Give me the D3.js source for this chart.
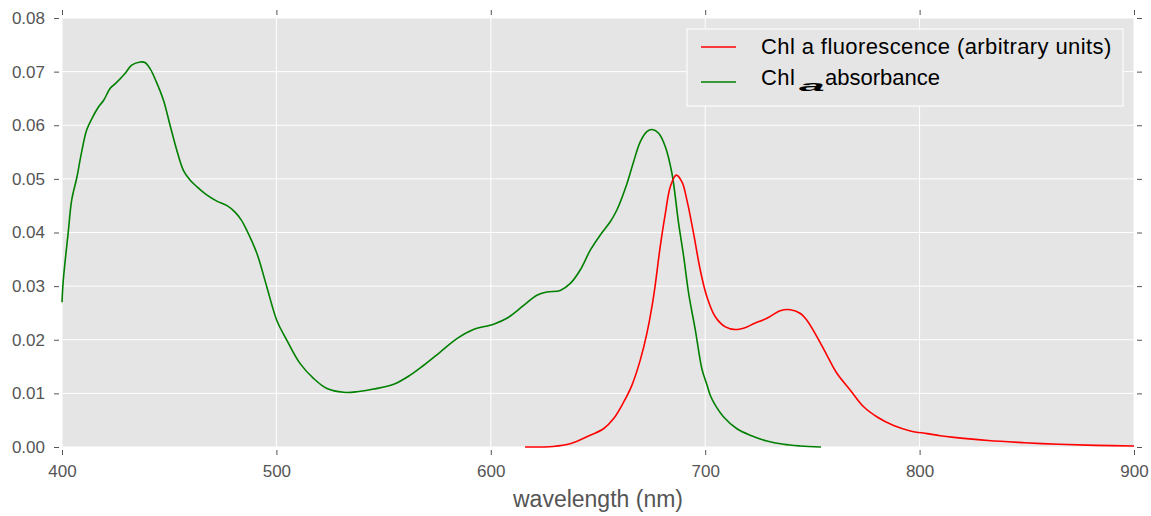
<!DOCTYPE html>
<html>
<head>
<meta charset="utf-8">
<script src="https://cdn.jsdelivr.net/npm/d3@7"></script>
<style>
  body { margin: 0; background: #fff; }
  text { font-family: "Liberation Sans", Arial, sans-serif; }
</style>
</head>
<body>
<div id="chart"></div>
<script>
const width = 1151;
const height = 516;
const margin = { top: 18, right: 17, bottom: 69, left: 62 };

// Chl a absorbance (green)
const absWl = [400, 400.6, 403, 404.5, 407, 409, 411.5, 414, 417, 419.5, 422.5, 425, 429.5, 432.5, 436.5, 438.7,
  441, 444, 447.3, 450.4, 453.5, 456.6, 459.7, 463, 467.5, 472, 477, 480.7, 483.5, 486.2, 490.9, 495.5,
  500.2, 504.9, 511, 517.3, 523.6, 531.4, 537.6, 545.3, 554.7, 562.4, 568.6, 576.4, 584.2, 591.9, 601.3,
  607.5, 615.3, 621.5, 626.2, 632.4, 637.1, 641.7, 646.4, 651, 655.7, 658.8, 663.5, 666.6, 669.7, 672.8,
  675.2, 678.3, 681.4, 684.5, 687.6, 690, 692.3, 695.4, 698.5, 700.8, 702.4, 704.7, 708.6, 714.8, 721,
  728.8, 736.5, 744.4, 754];
const absVal = [0.0270, 0.0311, 0.0404, 0.0460, 0.0504, 0.0547, 0.0591, 0.0613, 0.0634, 0.0647, 0.0669, 0.0678,
  0.0697, 0.0712, 0.0718, 0.0717, 0.0706, 0.0681, 0.0647, 0.0600, 0.0554, 0.0516, 0.0498, 0.0485, 0.0470,
  0.0459, 0.0450, 0.0438, 0.0424, 0.0404, 0.0361, 0.0299, 0.0236, 0.0199, 0.0156, 0.0128, 0.0109, 0.0102,
  0.0103, 0.0108, 0.0117, 0.0134, 0.0152, 0.0177, 0.0202, 0.0219, 0.0229, 0.0240, 0.0264, 0.0283, 0.0289,
  0.0292, 0.0305, 0.0330, 0.0367, 0.0395, 0.0420, 0.0442, 0.0491, 0.0532, 0.0569, 0.0588, 0.0592, 0.0585,
  0.0560, 0.0510, 0.0417, 0.0354, 0.0286, 0.0218, 0.0145, 0.0116, 0.0096, 0.0078, 0.0056, 0.0034, 0.0022,
  0.0011, 0.0005, 0.0002, 0.0];

// Chl a fluorescence (red)
const fluoWl = [616, 629, 637, 646.4, 652.6, 657.3, 662, 665.8, 669.7, 672.8, 675.9, 679, 681.4, 683.7, 686.5,
  689.2, 691.5, 694.6, 697.7, 700.8, 704.7, 709.4, 714, 719.5, 722.6, 728.8, 735, 739.7, 744.4, 747.5, 752.2,
  756.8, 761.5, 767.7, 773.9, 780.2, 787.9, 795.7, 803.5, 809.7, 816, 832, 849, 865, 882, 900];
const fluoVal = [0.0, 0.0001, 0.0006, 0.0022, 0.0034, 0.0053, 0.0084, 0.0115, 0.0162, 0.0212, 0.0280, 0.0373,
  0.0435, 0.0485, 0.0507, 0.0494, 0.0460, 0.0398, 0.0330, 0.0280, 0.0243, 0.0224, 0.0219, 0.0224, 0.0230,
  0.0240, 0.0254, 0.0256, 0.0249, 0.0236, 0.0205, 0.0171, 0.0137, 0.0106, 0.0075, 0.0056, 0.0040, 0.0030,
  0.0025, 0.0021, 0.0018, 0.0012, 0.0008, 0.0005, 0.0003, 0.0002];

const xTicks = [400, 500, 600, 700, 800, 900];
const yTicks = [0, 0.01, 0.02, 0.03, 0.04, 0.05, 0.06, 0.07, 0.08];
const legendLabels = ["Chl a fluorescence (arbitrary units)", "Chl", "a", "absorbance"];

const w = width - margin.left - margin.right;
const h = height - margin.top - margin.bottom;

const svg = d3.select("#chart")
    .append("svg")
    .attr("width", width)
    .attr("height", height)
  .append("g")
    .attr("transform", `translate(${margin.left},${margin.top})`);

const x = d3.scaleLinear().domain([400, 900]).range([0, w]);
const y = d3.scaleLinear().domain([0, 0.08]).range([h, 0]);

// Background + grid
svg.append("rect").attr("width", w).attr("height", h).attr("fill", "#e5e5e5");

svg.selectAll(".vgrid").data(xTicks).enter().append("line")
    .attr("x1", d => x(d)).attr("x2", d => x(d))
    .attr("y1", 0).attr("y2", h)
    .attr("stroke", "#fff").attr("stroke-width", 1);
svg.selectAll(".hgrid").data(yTicks).enter().append("line")
    .attr("x1", 0).attr("x2", w)
    .attr("y1", d => y(d)).attr("y2", d => y(d))
    .attr("stroke", "#fff").attr("stroke-width", 1);

// Axes (ticks outside on every side, with a small gap)
const gap = 3;
function styleAxis(g) {
  g.select(".domain").remove();
  g.selectAll(".tick line").attr("stroke", "#555");
  g.selectAll(".tick text").attr("fill", "#555").style("font-size", "17px");
}

svg.append("g")
    .attr("transform", `translate(0,${h + gap})`)
    .call(d3.axisBottom(x).tickValues(xTicks).tickSize(5).tickPadding(10).tickFormat(d3.format("d")))
    .call(styleAxis);

svg.append("g")
    .attr("transform", `translate(0,${-gap})`)
    .call(d3.axisTop(x).tickValues(xTicks).tickSize(5).tickFormat(""))
    .call(styleAxis);

svg.append("g")
    .attr("transform", `translate(${-gap},0)`)
    .call(d3.axisLeft(y).tickValues(yTicks).tickSize(5).tickPadding(9).tickFormat(d3.format(".2f")))
    .call(styleAxis);

svg.append("g")
    .attr("transform", `translate(${w + gap},0)`)
    .call(d3.axisRight(y).tickValues(yTicks).tickSize(5).tickFormat(""))
    .call(styleAxis);

svg.append("text")
    .attr("x", w / 2)
    .attr("y", h + 60)
    .attr("text-anchor", "middle")
    .attr("fill", "#555")
    .style("font-size", "23px")
    .text("wavelength (nm)");

// Curves
const line = d3.line()
    .x(d => x(d[0]))
    .y(d => y(d[1]))
    .curve(d3.curveCatmullRom.alpha(0.5));

svg.append("path")
    .datum(d3.zip(absWl, absVal))
    .attr("fill", "none")
    .attr("stroke", "#008000")
    .attr("stroke-width", 1.6)
    .attr("d", line);

svg.append("path")
    .datum(d3.zip(fluoWl, fluoVal))
    .attr("fill", "none")
    .attr("stroke", "#ff0000")
    .attr("stroke-width", 1.6)
    .attr("d", line);

// Legend
const legend = svg.append("g").attr("transform", "translate(625,11)");

legend.append("rect")
    .attr("width", 436)
    .attr("height", 77)
    .attr("fill", "#e5e5e5")
    .attr("stroke", "#f7f7f7")
    .attr("stroke-width", 1.5);

legend.append("line")
    .attr("x1", 14).attr("x2", 49).attr("y1", 18).attr("y2", 18)
    .attr("stroke", "#ff0000").attr("stroke-width", 1.5);
legend.append("line")
    .attr("x1", 14).attr("x2", 49).attr("y1", 53).attr("y2", 53)
    .attr("stroke", "#008000").attr("stroke-width", 1.5);

legend.append("text")
    .attr("x", 74).attr("y", 25)
    .attr("fill", "#000")
    .style("font-size", "22px")
    .style("letter-spacing", "0.4px")
    .text(legendLabels[0]);

legend.append("text")
    .attr("x", 74).attr("y", 56)
    .attr("fill", "#000")
    .style("font-size", "22px")
    .style("letter-spacing", "0.4px")
    .text(legendLabels[1]);

// garbled italic "a" as in the original render
legend.append("text")
    .attr("transform", "translate(112,62) scale(2.1,0.7)")
    .attr("fill", "#000")
    .style("font-size", "22px")
    .style("font-style", "italic")
    .style("font-weight", "bold")
    .text(legendLabels[2]);

legend.append("text")
    .attr("x", 138).attr("y", 56)
    .attr("fill", "#000")
    .style("font-size", "22px")
    .text(legendLabels[3]);
</script>
</body>
</html>
